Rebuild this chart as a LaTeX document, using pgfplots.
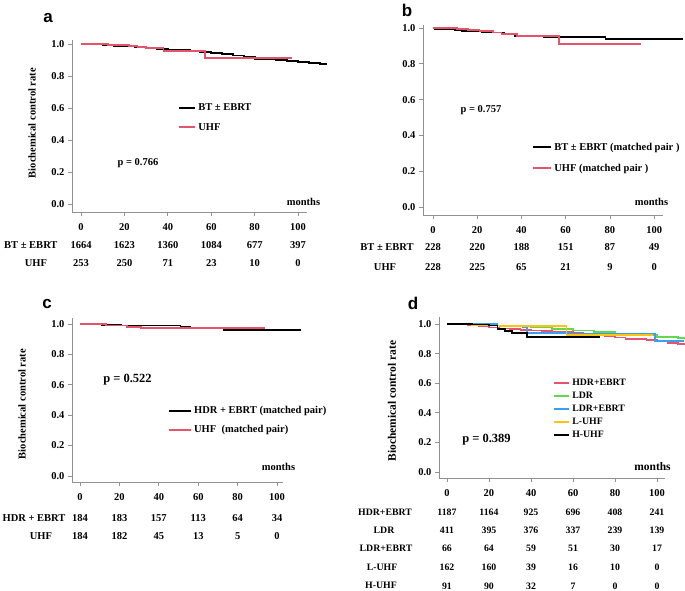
\documentclass[border=0pt]{standalone}
\usepackage{fontspec}
\setmainfont{Liberation Serif}
\setsansfont{Liberation Sans}
\usepackage{pgfplots}
\pgfplotsset{compat=1.18}
\definecolor{axgray}{RGB}{145,145,145}
\definecolor{uhfred}{RGB}{230,84,108}
\definecolor{ldrgreen}{RGB}{100,215,80}
\definecolor{ldrblue}{RGB}{55,160,240}
\definecolor{luhfyel}{RGB}{255,195,20}
\newcommand{\fs}{\fontsize{10.5}{12}\selectfont\bfseries}
\newcommand{\fsd}{\fontsize{9.8}{11}\selectfont\bfseries}
\pgfplotsset{
  km/.style={
    scale only axis, anchor=south west, clip=false,
    axis lines*=left,
    axis line style={draw=axgray, line width=0.7pt},
    tick style={draw=axgray, line width=0.7pt},
    tick align=outside, major tick length=4pt,
    xtick={0,20,40,60,80,100},
    ytick={0,0.2,0.4,0.6,0.8,1},
    ticklabel style={font=\fs},
    xticklabel style={yshift=-4pt},
    /pgf/number format/assume math mode=true,
    yticklabel style={/pgf/number format/.cd, fixed, fixed zerofill, precision=1},
    legend cell align=left,
    legend style={draw=none, fill=none, font=\fs, inner sep=0pt, anchor=north west,
      row sep=6pt, /tikz/every even column/.style={column sep=5pt}},
  },
  leg/.style={legend image code/.code={\draw[##1, line width=2pt] (0pt,0pt) -- (#1,0pt);}},
}
\begin{document}
\begin{tikzpicture}
\useasboundingbox (0,0) rectangle (685pt,590pt);

% ---- panel a
\begin{axis}[km, at={(72pt,378pt)}, width=235pt, height=172pt,
  xmin=-4.15, xmax=104.1, ymin=-0.05, ymax=1.025, leg=16pt,
  legend style={at={(axis cs:44.7,0.64)}, row sep=7pt}]
\addplot[const plot, black, line width=1.9pt] coordinates {
 (0,1)(5,0.997)(10,0.993)(15,0.99)(20,0.985)(25,0.98)(30,0.975)(35,0.97)
 (40,0.965)(45,0.96)(50,0.955)(55,0.95)(60,0.944)(65,0.937)(70,0.928)
 (75,0.918)(80,0.909)(85,0.906)(90,0.902)(95,0.896)(100,0.888)(105,0.882)
 (110,0.877)(113,0.875)};
\addlegendentry{BT ± EBRT}
\addplot[const plot, uhfred, line width=1.9pt] coordinates {
 (0,1)(12.6,0.995)(22,0.99)(26,0.98)(30,0.975)(38,0.955)(57,0.912)(97,0.912)};
\addlegendentry{UHF}
\node[font=\fs] at (axis cs:0,-0.256) {1664};
\node[font=\fs] at (axis cs:20,-0.256) {1623};
\node[font=\fs] at (axis cs:40,-0.256) {1360};
\node[font=\fs] at (axis cs:60,-0.256) {1084};
\node[font=\fs] at (axis cs:80,-0.256) {677};
\node[font=\fs] at (axis cs:100,-0.256) {397};
\node[font=\fs] at (axis cs:0,-0.369) {253};
\node[font=\fs] at (axis cs:20,-0.369) {250};
\node[font=\fs] at (axis cs:40,-0.369) {71};
\node[font=\fs] at (axis cs:60,-0.369) {23};
\node[font=\fs] at (axis cs:80,-0.369) {10};
\node[font=\fs] at (axis cs:100,-0.369) {0};
\end{axis}

% ---- panel b
\begin{axis}[km, at={(423pt,375pt)}, width=240pt, height=190pt,
  xmin=-4.5, xmax=104, ymin=-0.045, ymax=1.017, leg=18pt,
  legend style={at={(axis cs:44.8,0.37)}, row sep=8pt}]
\addplot[const plot, black, line width=1.8pt] coordinates {
 (0,1)(1,0.995)(10,0.99)(13,0.985)(22,0.975)(32,0.97)(37,0.955)(50,0.95)(78,0.94)(113,0.94)};
\addlegendentry{BT ± EBRT (matched pair )}
\addplot[const plot, uhfred, line width=1.8pt] coordinates {
 (0,1)(11,0.995)(16,0.99)(21,0.985)(27,0.975)(31,0.965)(38,0.955)(57,0.910)(94,0.910)};
\addlegendentry{UHF (matched pair )}
\node[font=\fs] at (axis cs:0,-0.223) {228};
\node[font=\fs] at (axis cs:20,-0.223) {220};
\node[font=\fs] at (axis cs:40,-0.223) {188};
\node[font=\fs] at (axis cs:60,-0.223) {151};
\node[font=\fs] at (axis cs:80,-0.223) {87};
\node[font=\fs] at (axis cs:100,-0.223) {49};
\node[font=\fs] at (axis cs:0,-0.335) {228};
\node[font=\fs] at (axis cs:20,-0.335) {225};
\node[font=\fs] at (axis cs:40,-0.335) {65};
\node[font=\fs] at (axis cs:60,-0.335) {21};
\node[font=\fs] at (axis cs:80,-0.335) {9};
\node[font=\fs] at (axis cs:100,-0.335) {0};
\end{axis}

% ---- panel c
\begin{axis}[km, at={(72pt,108pt)}, width=211pt, height=164pt,
  xmin=-4.06, xmax=103, ymin=-0.04, ymax=1.04, leg=22pt,
  legend style={at={(axis cs:44.6,0.474)}, row sep=6.5pt}]
\addplot[const plot, black, line width=1.8pt] coordinates {
 (0,1)(11,0.995)(21,0.99)(51,0.983)(56,0.975)(73,0.96)(112,0.96)};
\addlegendentry{HDR + EBRT (matched pair)}
\addplot[const plot, uhfred, line width=1.8pt] coordinates {
 (0,1)(13,0.99)(24,0.983)(31,0.973)(94,0.973)};
\addlegendentry{UHF\ \ (matched pair)}
\node[font=\fs] at (axis cs:0,-0.276) {184};
\node[font=\fs] at (axis cs:20,-0.276) {183};
\node[font=\fs] at (axis cs:40,-0.276) {157};
\node[font=\fs] at (axis cs:60,-0.276) {113};
\node[font=\fs] at (axis cs:80,-0.276) {64};
\node[font=\fs] at (axis cs:100,-0.276) {34};
\node[font=\fs] at (axis cs:0,-0.395) {184};
\node[font=\fs] at (axis cs:20,-0.395) {182};
\node[font=\fs] at (axis cs:40,-0.395) {45};
\node[font=\fs] at (axis cs:60,-0.395) {13};
\node[font=\fs] at (axis cs:80,-0.395) {5};
\node[font=\fs] at (axis cs:100,-0.395) {0};
\end{axis}

% ---- panel d
\begin{axis}[km, at={(439pt,112pt)}, width=226pt, height=161pt,
  xmin=-3.8, xmax=103.8, ymin=-0.04, ymax=1.047, leg=15pt,
  legend style={at={(axis cs:50.5,0.642)}, row sep=1pt, font=\fsd}]
\addplot[const plot, uhfred, line width=1.5pt] coordinates {
 (0,1)(5,0.996)(10,0.99)(15,0.984)(20,0.977)(25,0.97)(30,0.965)(35,0.96)
 (40,0.955)(45,0.952)(50,0.948)(55,0.945)(60,0.94)(65,0.935)(70,0.93)
 (75,0.92)(80,0.908)(85,0.9)(90,0.897)(95,0.892)(100,0.884)(105,0.872)
 (110,0.866)(113,0.865)};
\addlegendentry{HDR+EBRT}
\addplot[const plot, ldrgreen, line width=1.5pt] coordinates {
 (0,1)(10,0.995)(20,0.99)(30,0.982)(40,0.975)(50,0.966)(60,0.955)(70,0.945)
 (80,0.935)(90,0.925)(100,0.912)(110,0.905)(113,0.902)};
\addlegendentry{LDR}
\addplot[const plot, ldrblue, line width=1.5pt] coordinates {
 (0,1)(24,0.99)(36,0.975)(38,0.94)(58,0.932)(99,0.884)(113,0.884)};
\addlegendentry{LDR+EBRT}
\addplot[const plot, luhfyel, line width=1.5pt] coordinates {
 (0,1)(12,0.99)(25,0.987)(40,0.985)(57,0.926)(98,0.926)};
\addlegendentry{L-UHF}
\addplot[const plot, black, line width=1.5pt] coordinates {
 (0,1)(12,0.995)(20,0.99)(24,0.966)(27.6,0.953)(31,0.939)(38,0.912)(73,0.912)};
\addlegendentry{H-UHF}
\node[font=\fsd] at (axis cs:0,-0.270) {1187};
\node[font=\fsd] at (axis cs:20,-0.270) {1164};
\node[font=\fsd] at (axis cs:40,-0.270) {925};
\node[font=\fsd] at (axis cs:60,-0.270) {696};
\node[font=\fsd] at (axis cs:80,-0.270) {408};
\node[font=\fsd] at (axis cs:100,-0.270) {241};
\node[font=\fsd] at (axis cs:0,-0.392) {411};
\node[font=\fsd] at (axis cs:20,-0.392) {395};
\node[font=\fsd] at (axis cs:40,-0.392) {376};
\node[font=\fsd] at (axis cs:60,-0.392) {337};
\node[font=\fsd] at (axis cs:80,-0.392) {239};
\node[font=\fsd] at (axis cs:100,-0.392) {139};
\node[font=\fsd] at (axis cs:0,-0.514) {66};
\node[font=\fsd] at (axis cs:20,-0.514) {64};
\node[font=\fsd] at (axis cs:40,-0.514) {59};
\node[font=\fsd] at (axis cs:60,-0.514) {51};
\node[font=\fsd] at (axis cs:80,-0.514) {30};
\node[font=\fsd] at (axis cs:100,-0.514) {17};
\node[font=\fsd] at (axis cs:0,-0.642) {162};
\node[font=\fsd] at (axis cs:20,-0.642) {160};
\node[font=\fsd] at (axis cs:40,-0.642) {39};
\node[font=\fsd] at (axis cs:60,-0.642) {16};
\node[font=\fsd] at (axis cs:80,-0.642) {10};
\node[font=\fsd] at (axis cs:100,-0.642) {0};
\node[font=\fsd] at (axis cs:0,-0.770) {91};
\node[font=\fsd] at (axis cs:20,-0.770) {90};
\node[font=\fsd] at (axis cs:40,-0.770) {32};
\node[font=\fsd] at (axis cs:60,-0.770) {7};
\node[font=\fsd] at (axis cs:80,-0.770) {0};
\node[font=\fsd] at (axis cs:100,-0.770) {0};
\end{axis}

% ---- texts around the axes
\begin{scope}[font=\fs]
% a
\node[font=\sffamily\bfseries\fontsize{17}{18}\selectfont] at (48pt,572pt) {a};
\node[rotate=90] at (32pt,467pt) {Biochemical control rate};
\node at (138pt,427pt) {p = 0.766};
\node at (303.5pt,388pt) {months};
\node[anchor=east] at (61pt,345pt) {BT ± EBRT};
\node at (36pt,327pt) {UHF};
% b
\node[font=\sffamily\bfseries\fontsize{17}{18}\selectfont] at (407pt,580pt) {b};
\node at (481pt,480pt) {p = 0.757};
\node at (651.5pt,388pt) {months};
\node at (387pt,343pt) {BT ± EBRT};
\node at (385pt,323pt) {UHF};
% c
\node[font=\sffamily\bfseries\fontsize{17}{18}\selectfont] at (47pt,286pt) {c};
\node[rotate=90] at (22pt,186pt) {Biochemical control rate};
\node[font=\fontsize{12.5}{14}\selectfont\bfseries] at (127.5pt,210pt) {p = 0.522};
\node at (278.5pt,123pt) {months};
\node at (34pt,72pt) {HDR + EBRT};
\node at (41pt,54pt) {UHF};
% d
\node[font=\sffamily\bfseries\fontsize{17}{18}\selectfont] at (413pt,287pt) {d};
\node[rotate=90, font=\fontsize{11.5}{13}\selectfont\bfseries] at (392pt,189pt) {Biochemical control rate};
\node[font=\fontsize{12.5}{14}\selectfont\bfseries] at (486.5pt,150pt) {p = 0.389};
\node[font=\fontsize{11.5}{13}\selectfont\bfseries] at (652.5pt,123pt) {months};
\node[font=\fsd] at (385pt,78pt) {HDR+EBRT};
\node[font=\fsd] at (384pt,60pt) {LDR};
\node[font=\fsd] at (386pt,42pt) {LDR+EBRT};
\node[font=\fsd] at (382pt,23pt) {L-UHF};
\node[font=\fsd] at (381pt,5pt) {H-UHF};
\end{scope}
\end{tikzpicture}
\end{document}
